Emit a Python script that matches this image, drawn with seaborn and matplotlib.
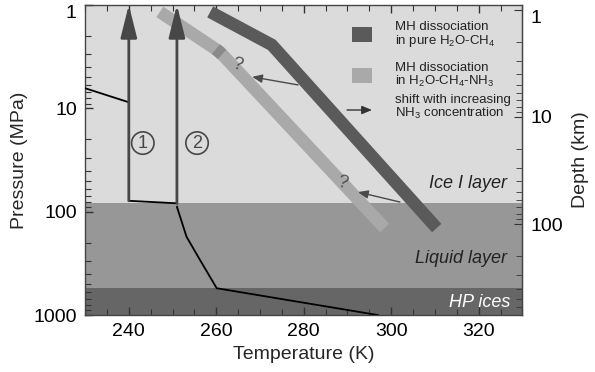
import numpy as np
import pandas as pd
import matplotlib
matplotlib.use('Agg')
import matplotlib.pyplot as plt
import seaborn as sns
from matplotlib.ticker import MultipleLocator, FixedLocator, FuncFormatter, LogLocator, NullFormatter

# layers (pressure bounds, MPa)
layer_names = ['Ice I layer', 'Liquid layer', 'HP ices']
layer_bounds = [1, 83, 550, 1000]
layer_colors = ['#dbdbdb', '#979797', '#666666']

# thermal profiles
surface_T = [230.0, 239.8]
surface_P = [6.4, 8.7]
path1_T = [240.0, 251.0]
path1_P = [78.5, 83.0]
warm_T = [251.0, 251.0, 253.2, 256.3, 260.1, 297.0]
warm_P = [83.0, 96.5, 175.0, 294.0, 550.0, 1000.0]

# vertical arrows (1) and (2)
arrow_T = [240.0, 251.0]
arrow_P_start = [78.5, 83.0]
arrow_labels = ['1', '2']
arrow_label_T = [243.2, 255.6]
arrow_label_P = [21.7, 21.7]

# MH dissociation curves
pure_T = [258.6, 272.7, 310.4]
pure_P = [1.17, 2.44, 144.0]
nh3_T = [247.1, 260.8, 298.5]
nh3_P = [1.17, 2.85, 144.0]

# shift arrows (tail on pure curve, tip on NH3 curve)
shift_tail_T = [278.7, 302.0]
shift_tail_P = [5.95, 80.7]
shift_tip_T = [268.2, 292.4]
shift_tip_P = [4.97, 64.6]
question_T = [264.7, 288.9]
question_P = [3.8, 52.8]

sns.set_style('ticks')
plt.rcParams['font.family'] = ['Liberation Sans', 'DejaVu Sans']
plt.rcParams['mathtext.fontset'] = 'custom'
plt.rcParams['mathtext.rm'] = 'Liberation Sans'
plt.rcParams['mathtext.it'] = 'Liberation Sans:italic'

fig = plt.figure(figsize=(5.95, 3.72), dpi=100)
ax = fig.add_axes([0.143, 0.153, 0.735, 0.834])

for i in range(3):
    ax.axhspan(layer_bounds[i], layer_bounds[i + 1], color=layer_colors[i], lw=0, zorder=0)

# dissociation bands
sns.lineplot(x=nh3_T, y=nh3_P, sort=False, ax=ax, color='#a9a9a9', lw=9,
             solid_capstyle='butt', solid_joinstyle='miter', zorder=2)
sns.lineplot(x=pure_T, y=pure_P, sort=False, ax=ax, color='#5a5a5a', lw=9,
             solid_capstyle='butt', solid_joinstyle='miter', zorder=2)
# darker mark on the NH3 band near the kink
kink_T = [nh3_T[1] - 0.9, nh3_T[1] + 0.5]
kink_P = [nh3_P[1] * 0.94, nh3_P[1] * 1.06]
ax.plot(kink_T, kink_P, color='#8a8a8a', lw=9, solid_capstyle='butt', zorder=2)

# thermal profiles
sns.lineplot(x=surface_T, y=surface_P, sort=False, ax=ax, color='black', lw=1.3, zorder=3)
sns.lineplot(x=path1_T, y=path1_P, sort=False, ax=ax, color='black', lw=1.3, zorder=3)
sns.lineplot(x=warm_T, y=warm_P, sort=False, ax=ax, color='black', lw=1.3, zorder=3)

for t, p0 in zip(arrow_T, arrow_P_start):
    ax.annotate('', xy=(t, 1.0), xytext=(t, p0),
                arrowprops=dict(arrowstyle='-|>,head_length=2.0,head_width=0.5',
                                lw=2, color='#474747', shrinkA=0, shrinkB=0,
                                mutation_scale=10), zorder=4)
for t, p, lab in zip(arrow_label_T, arrow_label_P, arrow_labels):
    ax.text(t, p, lab, ha='center', va='center', fontsize=13, color='#474747',
            bbox=dict(boxstyle='circle,pad=0.15', fc='none', ec='#474747', lw=1.2), zorder=4)

for i in range(2):
    ax.annotate('', xy=(shift_tip_T[i], shift_tip_P[i]), xytext=(shift_tail_T[i], shift_tail_P[i]),
                arrowprops=dict(arrowstyle='-|>,head_length=0.6,head_width=0.25',
                                lw=1, color='#4a4a4a', shrinkA=0, shrinkB=0,
                                mutation_scale=10), zorder=4)
    ax.text(question_T[i], question_P[i], '?', ha='center', va='center', fontsize=13,
            color='#505050', rotation=-15, zorder=4)

# layer labels
ax.text(326.4, 54, layer_names[0], ha='right', va='center', fontsize=13, style='italic', color='#222222')
ax.text(326.4, 281, layer_names[1], ha='right', va='center', fontsize=13, style='italic', color='#222222')
ax.text(327.3, 754, layer_names[2], ha='right', va='center', fontsize=13, style='italic', color='white')

# legend drawn in axes fraction
ax.add_patch(plt.Rectangle((0.610, 0.881), 0.046, 0.048, transform=ax.transAxes,
                           color='#5a5a5a', lw=0, zorder=5))
ax.add_patch(plt.Rectangle((0.610, 0.748), 0.046, 0.049, transform=ax.transAxes,
                           color='#a9a9a9', lw=0, zorder=5))
ax.annotate('', xy=(0.656, 0.661), xytext=(0.599, 0.661), xycoords='axes fraction',
            arrowprops=dict(arrowstyle='-|>,head_length=0.6,head_width=0.25', lw=1,
                            color='#333333', shrinkA=0, shrinkB=0, mutation_scale=10))
leg_text = ['MH dissociation\nin pure H$_2$O-CH$_4$',
            'MH dissociation\nin H$_2$O-CH$_4$-NH$_3$',
            'shift with increasing\nNH$_3$ concentration']
leg_y = [0.903, 0.772, 0.669]
for s, y in zip(leg_text, leg_y):
    ax.text(0.708, y, s, transform=ax.transAxes, ha='left', va='center', fontsize=9.5,
            linespacing=1.05, color='#222222', zorder=5)

ax.set_yscale('log')
ax.set_xlim(230, 330)
ax.set_ylim(1000, 1)
ax.xaxis.set_major_locator(FixedLocator([240, 260, 280, 300, 320]))
ax.xaxis.set_minor_locator(MultipleLocator(5))
ax.yaxis.set_major_locator(FixedLocator([1, 10, 100, 1000]))
ax.yaxis.set_minor_locator(LogLocator(base=10, subs=np.arange(2, 10)))
ax.yaxis.set_major_formatter(FuncFormatter(lambda v, _: f'{v:g}'))
ax.yaxis.set_minor_formatter(NullFormatter())
ax.tick_params(axis='both', which='both', direction='in', colors='#333333', labelcolor='black',
               labelsize=14, top=True)
ax.tick_params(axis='both', which='major', length=6, width=1, pad=6)
ax.tick_params(axis='both', which='minor', length=4, width=0.8)
ax.tick_params(axis='y', which='both', right=False)
for sp in ax.spines.values():
    sp.set_color('#444444')
    sp.set_linewidth(1)

ax.set_xlabel('Temperature (K)', fontsize=14, labelpad=4)
ax.set_ylabel('Pressure (MPa)', fontsize=14, labelpad=4)

# depth axis
def p2d(p):
    return 0.898 * np.power(np.clip(p, 1e-6, None), 0.9655)

def d2p(d):
    return np.power(np.clip(d, 1e-6, None) / 0.898, 1 / 0.9655)

sec = ax.secondary_yaxis('right', functions=(p2d, d2p))
sec.set_yscale('log')
sec.yaxis.set_major_locator(FixedLocator([1, 10, 100]))
sec.yaxis.set_minor_locator(LogLocator(base=10, subs=np.arange(2, 10)))
sec.yaxis.set_major_formatter(FuncFormatter(lambda v, _: f'{v:g}'))
sec.yaxis.set_minor_formatter(NullFormatter())
sec.tick_params(which='both', direction='in', colors='#333333', labelcolor='black', labelsize=14)
sec.tick_params(which='major', length=6, pad=6)
sec.tick_params(which='minor', length=4)
sec.spines['right'].set_color('#444444')
sec.set_ylabel('Depth (km)', fontsize=14, labelpad=6)

# push the top "1" labels down inside the figure like the original
fig.canvas.draw()
ax.yaxis.get_major_ticks()[0].label1.set_va('top')
sec.yaxis.get_major_ticks()[0].label2.set_va('top')

fig.savefig('out.png', dpi=100, facecolor='white')
